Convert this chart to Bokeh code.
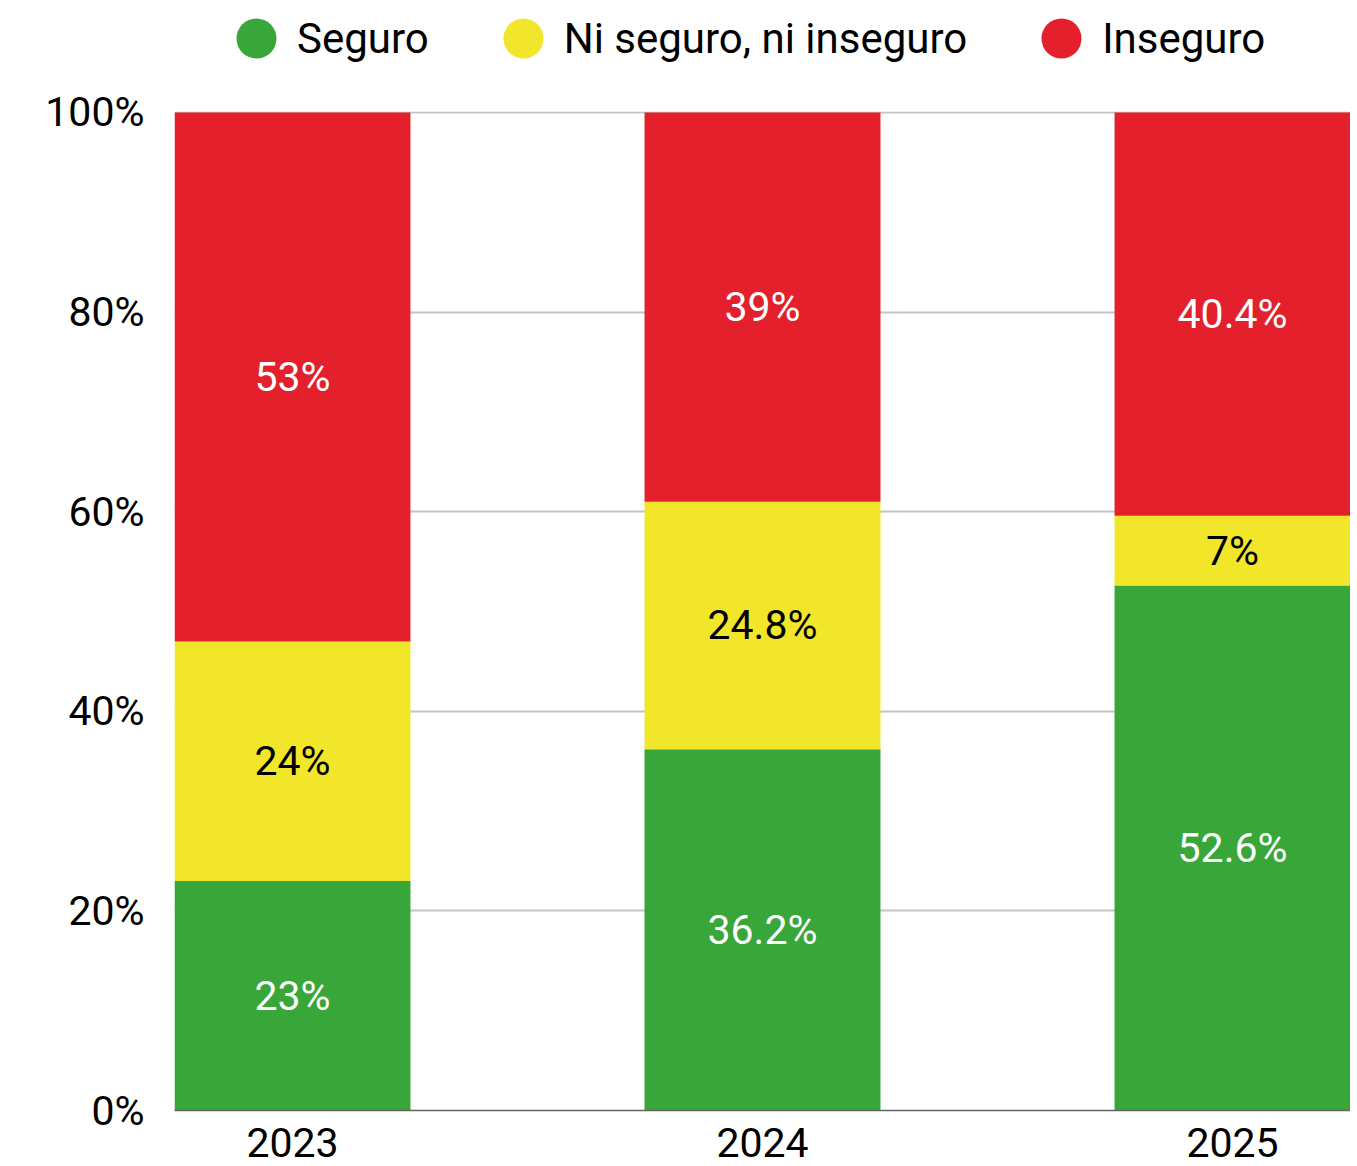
from bokeh.plotting import figure
from bokeh.layouts import column
from bokeh.models import (Range1d, FixedTicker, PrintfTickFormatter, Legend, LegendItem,
                          ColumnDataSource)
from bokeh.embed import file_html
from bokeh.resources import INLINE
from bokeh.core.properties import value

# ---- data ----
years = ["2023", "2024", "2025"]
seguro = [23, 36.2, 52.6]
ni_seguro = [24, 24.8, 7]
inseguro = [53, 39, 40.4]
series_names = ["Seguro", "Ni seguro, ni inseguro", "Inseguro"]
y_ticks = [0, 20, 40, 60, 80, 100]

# ---- style ----
colors = ["#38A638", "#F1E62A", "#E3202B"]
label_colors = ["white", "black", "white"]
FONT = "Roboto"
FS = "41px"
bar_w = 0.502
W = 1350
LEG_H = 80

x = list(range(len(years)))
x_range = Range1d(-bar_w / 2, len(years) - 1 + bar_w / 2)
y_range = Range1d(0, 100.1)
keys = ["seguro", "ni", "inseguro"]
src = ColumnDataSource(dict(x=x, seguro=seguro, ni=ni_seguro, inseguro=inseguro))

# ---- main chart ----
p = figure(width=W, height=1166 - LEG_H, output_backend="svg", toolbar_location=None,
           x_range=x_range, y_range=y_range,
           min_border_top=31, min_border_left=174, min_border_right=0, min_border_bottom=56)

p.vbar_stack(keys, x="x", width=bar_w, fill_color=colors, line_color=None, source=src)

# value labels
lx, ly, lt, lc = [], [], [], []
for i in x:
    base = 0
    for vals, col in zip([seguro, ni_seguro, inseguro], label_colors):
        v = vals[i]
        lx.append(i)
        ly.append(base + v / 2)
        lt.append(f"{v:g}%")
        lc.append(col)
        base += v
lsrc = ColumnDataSource(dict(x=lx, y=ly, t=lt, c=lc))
p.text(x="x", y="y", text="t", text_color="c", source=lsrc, text_align="center",
       text_baseline="middle", text_font=value(FONT), text_font_size=FS)

# axes
p.xaxis.ticker = FixedTicker(ticks=x)
p.xaxis.major_label_overrides = {i: yr for i, yr in zip(x, years)}
p.xaxis.major_tick_line_color = None
p.xaxis.minor_tick_line_color = None
p.xaxis.major_tick_out = 0
p.xaxis.major_tick_in = 0
p.xaxis.axis_line_color = "#646464"
p.xaxis.axis_line_width = 1.5
p.xaxis.major_label_standoff = 17
p.xaxis.major_label_text_font = FONT
p.xaxis.major_label_text_font_size = FS
p.xaxis.major_label_text_color = "black"

p.yaxis.ticker = FixedTicker(ticks=y_ticks)
p.yaxis.formatter = PrintfTickFormatter(format="%d%%")
p.yaxis.axis_line_color = None
p.yaxis.major_tick_line_color = None
p.yaxis.minor_tick_line_color = None
p.yaxis.major_tick_out = 0
p.yaxis.major_tick_in = 0
p.yaxis.major_label_standoff = 30
p.yaxis.major_label_text_font = FONT
p.yaxis.major_label_text_font_size = FS
p.yaxis.major_label_text_color = "black"

p.xgrid.visible = False
p.ygrid.grid_line_color = "#C4C4C4"
p.ygrid.grid_line_width = 2
p.outline_line_color = None

# ---- legend strip ----
lf = figure(width=W, height=LEG_H, output_backend="svg", toolbar_location=None,
            x_range=x_range, y_range=y_range, x_axis_location=None, y_axis_location=None,
            min_border=0)
lf.grid.visible = False
lf.outline_line_color = None
markers = [lf.ellipse(x="x", y=k, width=0.001, height=0.001, width_units="screen",
                      height_units="screen", fill_color=c, line_color=None, source=src)
           for k, c in zip(keys, colors)]
legend = Legend(items=[LegendItem(label=n, renderers=[r]) for n, r in zip(series_names, markers)],
                orientation="horizontal", location=(57, 17), glyph_width=50, glyph_height=50,
                label_standoff=16, spacing=69, padding=0, margin=0, border_line_color=None,
                background_fill_alpha=0, label_text_font=FONT, label_text_font_size="42px",
                label_text_color="black")
lf.add_layout(legend, "center")

open("out.html", "w").write(file_html(column(lf, p, spacing=0), INLINE))
